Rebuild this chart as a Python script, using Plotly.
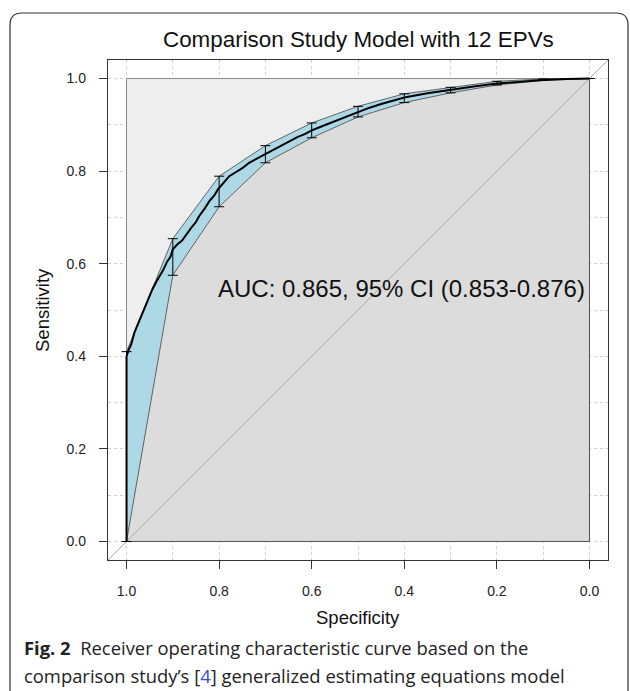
import plotly.graph_objects as go

# ---- data ----
roc_spec = [1.0, 1.0, 0.995, 0.99, 0.983, 0.975, 0.970, 0.962, 0.955, 0.944, 0.935, 0.922,
            0.912, 0.905, 0.900, 0.890, 0.880, 0.871, 0.860, 0.850, 0.843, 0.832, 0.821,
            0.810, 0.803, 0.790, 0.778, 0.765, 0.749, 0.735, 0.720, 0.702, 0.685, 0.670,
            0.650, 0.630, 0.615, 0.600, 0.575, 0.550, 0.525, 0.500, 0.475, 0.450, 0.425,
            0.400, 0.350, 0.300, 0.250, 0.200, 0.150, 0.100, 0.050, 0.0]
roc_sens = [0.0, 0.400, 0.415, 0.425, 0.451, 0.470, 0.485, 0.505, 0.520, 0.545, 0.562, 0.584,
            0.605, 0.615, 0.631, 0.642, 0.650, 0.663, 0.678, 0.690, 0.703, 0.718, 0.735,
            0.748, 0.760, 0.775, 0.789, 0.797, 0.807, 0.818, 0.826, 0.836, 0.845, 0.853,
            0.864, 0.874, 0.880, 0.888, 0.898, 0.908, 0.918, 0.927, 0.937, 0.945, 0.952,
            0.959, 0.968, 0.976, 0.983, 0.989, 0.993, 0.997, 0.999, 1.0]

ci_spec = [1.0, 0.9, 0.8, 0.7, 0.6, 0.5, 0.4, 0.3, 0.2, 0.1, 0.0]
ci_low = [0.0, 0.575, 0.723, 0.818, 0.872, 0.917, 0.948, 0.969, 0.986, 0.996, 1.0]
ci_high = [0.410, 0.654, 0.789, 0.855, 0.904, 0.940, 0.967, 0.981, 0.994, 0.999, 1.0]

square_spec = [1.0, 1.0, 0.0, 0.0, 1.0]
square_sens = [0.0, 1.0, 1.0, 0.0, 0.0]

diag_spec = [1.04, -0.04]
diag_sens = [1 - s for s in diag_spec]

tick_vals = [1.0, 0.8, 0.6, 0.4, 0.2, 0.0]
tick_text = ["1.0", "0.8", "0.6", "0.4", "0.2", "0.0"]

title_text = "Comparison Study Model with 12 EPVs"
auc_text = "AUC: 0.865, 95% CI (0.853-0.876)"
x_title = "Specificity"
y_title = "Sensitivity"

# ---- figure ----
W, H = 630, 691
ML, MR, MT, MB = 108, 22, 60, 131
PW, PH = W - ML - MR, H - MT - MB


def px_x(p):
    return (p - ML) / PW


def px_y(p):
    return (H - MB - p) / PH


fig = go.Figure()

# max AUC square (light grey)
fig.add_trace(go.Scatter(x=square_spec, y=square_sens, mode="lines", fill="toself",
                         fillcolor="#EEEEEE", line=dict(color="#8a8a8a", width=1),
                         hoverinfo="skip", showlegend=False))

# AUC polygon (darker grey)
auc_x = roc_spec + [0.0, 1.0]
auc_y = roc_sens + [0.0, 0.0]
fig.add_trace(go.Scatter(x=auc_x, y=auc_y, mode="lines", fill="toself",
                         fillcolor="#DCDCDC", line=dict(color="#555555", width=1),
                         hoverinfo="skip", showlegend=False))

# CI shape (light blue)
ci_x = ci_spec + ci_spec[::-1]
ci_y = ci_high + ci_low[::-1]
fig.add_trace(go.Scatter(x=ci_x, y=ci_y, mode="lines", fill="toself",
                         fillcolor="#ADD8E6", line=dict(color="#444444", width=0.8),
                         hoverinfo="skip", showlegend=False))

# identity line
fig.add_trace(go.Scatter(x=diag_spec, y=diag_sens, mode="lines",
                         line=dict(color="#A8A8A8", width=1),
                         hoverinfo="skip", showlegend=False))

# ROC curve
fig.add_trace(go.Scatter(x=roc_spec, y=roc_sens, mode="lines",
                         line=dict(color="#000000", width=2),
                         hoverinfo="skip", showlegend=False))

# CI bars
fig.add_trace(go.Scatter(x=ci_spec, y=ci_low, mode="markers",
                         marker=dict(size=1, color="rgba(0,0,0,0)"),
                         error_y=dict(type="data", symmetric=False,
                                      array=[h - l for h, l in zip(ci_high, ci_low)],
                                      arrayminus=[0] * len(ci_low),
                                      color="#000000", thickness=1, width=5),
                         hoverinfo="skip", showlegend=False))

axis_common = dict(
    tickvals=tick_vals, ticktext=tick_text,
    ticks="outside", ticklen=8, tickwidth=1, tickcolor="#333333",
    showline=True, mirror=True, linecolor="#333333", linewidth=1.3,
    showgrid=True, gridcolor="#cfcfcf", griddash="dot", gridwidth=1,
    minor=dict(dtick=0.1, tick0=0, showgrid=True, gridcolor="#cfcfcf", griddash="dot", gridwidth=1),
    zeroline=False,
    tickfont=dict(family="Liberation Sans, Arial", size=14, color="#222222"),
    ticklabelstandoff=10,
)

fig.update_layout(
    width=W, height=H, autosize=False,
    margin=dict(l=ML, r=MR, t=MT, b=MB, pad=0),
    paper_bgcolor="white", plot_bgcolor="white",
    xaxis=dict(range=[1.04, -0.04], **axis_common),
    yaxis=dict(range=[-0.04, 1.04], **axis_common),
    showlegend=False,
)

annos = [
    dict(text=title_text, x=0.5, y=px_y(40), xref="paper", yref="paper",
         xanchor="center", yanchor="middle", showarrow=False,
         font=dict(family="Liberation Sans, Arial", size=22.4, color="#111111")),
    dict(text=auc_text, x=0.405, y=0.547, xref="x", yref="y",
         xanchor="center", yanchor="middle", showarrow=False,
         font=dict(family="Liberation Sans, Arial", size=24, color="#111111")),
    dict(text=x_title, x=0.5, y=px_y(617), xref="paper", yref="paper",
         xanchor="center", yanchor="middle", showarrow=False,
         font=dict(family="Liberation Sans, Arial", size=18.5, color="#111111")),
    dict(text=y_title, x=px_x(42), y=0.5, xref="paper", yref="paper",
         xanchor="center", yanchor="middle", showarrow=False, textangle=-90,
         font=dict(family="Liberation Sans, Arial", size=18.5, color="#111111")),
    dict(text="<b>Fig. 2</b>  Receiver operating characteristic curve based on the",
         x=px_x(22), y=px_y(647), xref="paper", yref="paper",
         xanchor="left", yanchor="middle", showarrow=False,
         font=dict(family="Open Sans", size=18.4, color="#222222")),
    dict(text="comparison study\u2019s [<span style='color:#3050d8'>4</span>] generalized estimating equations model",
         x=px_x(22), y=px_y(675), xref="paper", yref="paper",
         xanchor="left", yanchor="middle", showarrow=False,
         font=dict(family="Open Sans", size=18.4, color="#222222")),
]
fig.update_layout(annotations=annos)

# outer rounded frame
L, R, T, B, r = px_x(10), px_x(628), px_y(13), px_y(691), 12 / PW
ry = 12 / PH
path = (f"M {L} {B} L {L} {T - ry} Q {L} {T} {L + r} {T} "
        f"L {R - r} {T} Q {R} {T} {R} {T - ry} L {R} {B}")
fig.add_shape(type="path", path=path, xref="paper", yref="paper",
              line=dict(color="#333333", width=1.2), layer="above")

fig.write_html("out.html",
               config={"displayModeBar": False},
               post_script="document.body.style.margin='0';document.body.style.overflow='hidden';")
